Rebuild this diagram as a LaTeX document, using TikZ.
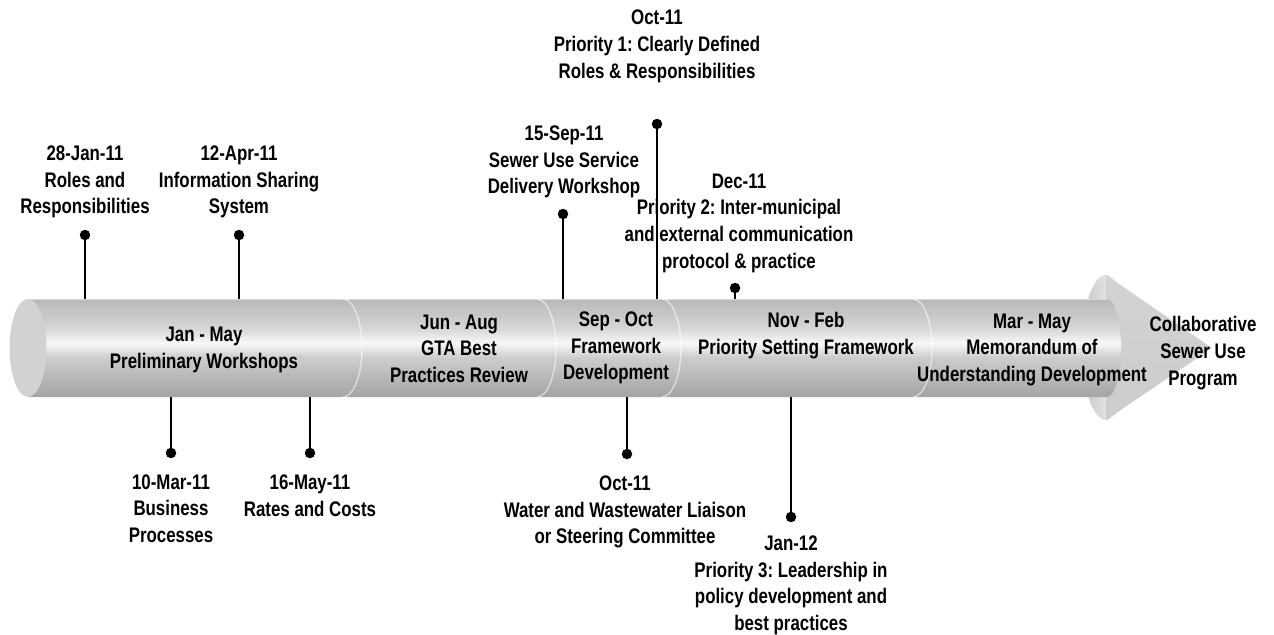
\documentclass[tikz,border=0pt]{standalone}
\usepackage{fontspec}
\setmainfont{Liberation Sans}[FakeStretch=0.8]
\usepackage{tikz}
\usetikzlibrary{arrows}
\usetikzlibrary{shapes.geometric}
\tikzset{>=stealth'}
\frenchspacing
\definecolor{tubedark}{RGB}{164,164,164}
\definecolor{tubelow}{RGB}{204,204,204}
\definecolor{tubetop}{RGB}{184,184,184}
\definecolor{tubehigh}{RGB}{214,214,214}
\definecolor{tubelight}{RGB}{248,248,248}
\definecolor{capgray}{RGB}{210,210,210}
\pgfdeclareverticalshading{tube}{100bp}{color(0bp)=(tubedark); color(25bp)=(tubedark); color(45bp)=(tubelow); color(52.5bp)=(tubelight); color(60bp)=(tubehigh); color(75bp)=(tubetop); color(100bp)=(tubetop)}
\tikzset{
    tltext/.style={align=center, inner sep=0pt, font=\bfseries\fontsize{12}{15.2}\selectfont},
    pinhead/.style={circle, fill=black, inner sep=0pt, minimum size=0.21cm},
    pinline/.style={line width=0.6pt},
    divider/.style={white, opacity=0.55, line width=0.8pt}
}

\begin{document}
\begin{tikzpicture}[x=0.02cm, y=-0.02cm]
    \useasboundingbox (0,0) rectangle (1274,635);

    % cone at the end of the tube
    \shade[left color=gray!45, right color=white] (1106,347.5) ellipse [x radius=24, y radius=72.5];
    \shade[top color=gray!35, middle color=gray!5, bottom color=gray!40] (1106,275) -- (1212,348) -- (1106,420) -- cycle;

    % tube
    \shade[shading=tube] (28,299) -- (1107,299) arc[start angle=-90, end angle=90, x radius=14, y radius=49] -- (28,397) -- cycle;
    \draw[white, opacity=0.5, line width=0.5pt] (28,299.6) -- (1107,299.6); % top edge
    \fill[capgray] (28,348) ellipse [x radius=18.5, y radius=49]; % left end
    \foreach \dx in {343,537,662,913}
        \draw[divider] (\dx,299) arc[start angle=-90, end angle=90, x radius=19, y radius=49];

    % phases
    \node[tltext] (janmay) at (204,349.7) {Jan - May\\Preliminary Workshops};
    \node[tltext] (junaug) at (459,348.7) {Jun - Aug\\GTA Best\\Practices Review};
    \node[tltext] (sepoct) at (616,348) {Sep - Oct\\Framework\\Development};
    \node[tltext] (novfeb) at (806,335.4) {Nov - Feb\\Priority Setting Framework};
    \node[tltext] (marmay) at (1032,349.7) {Mar - May\\Memorandum of\\Understanding Development};
    \node[tltext] (program) at (1203,353) {Collaborative\\Sewer Use\\Program};

    % pins above
    \node[pinhead] (rolesdot) at (85,235) {};
    \node[pinhead] (infodot) at (239,235) {};
    \node[pinhead] (sewerdot) at (563,214) {};
    \node[pinhead] (prioonedot) at (657,124) {};
    \node[pinhead] (priotwodot) at (735,288) {};
    \coordinate (rolesbase) at (85,299);
    \coordinate (infobase) at (239,299);
    \coordinate (sewerbase) at (563,299);
    \coordinate (priobase) at (657,299);
    \coordinate (priotwobase) at (735,299);
    \draw[pinline] (rolesbase) -- (rolesdot.center);
    \draw[pinline] (infobase) -- (infodot.center);
    \draw[pinline] (sewerbase) -- (sewerdot.center);
    \draw[pinline] (priobase) -- (prioonedot.center);
    \draw[pinline] (priotwobase) -- (priotwodot.center);

    % pins below
    \node[pinhead] (busdot) at (171,453) {};
    \node[pinhead] (ratesdot) at (310,453) {};
    \node[pinhead] (waterdot) at (627,454) {};
    \node[pinhead] (priothreedot) at (791,517) {};
    \coordinate (busbase) at (171,397);
    \coordinate (ratesbase) at (310,397);
    \coordinate (waterbase) at (627,397);
    \coordinate (priothreebase) at (791,397);
    \draw[pinline] (busbase) -- (busdot.center);
    \draw[pinline] (ratesbase) -- (ratesdot.center);
    \draw[pinline] (waterbase) -- (waterdot.center);
    \draw[pinline] (priothreebase) -- (priothreedot.center);

    % milestones
    \node[tltext] (roles) at (85,182) {28-Jan-11\\Roles and\\Responsibilities};
    \node[tltext] (info) at (239,182) {12-Apr-11\\Information Sharing\\System};
    \node[tltext] (sewer) at (564,162) {15-Sep-11\\Sewer Use Service\\Delivery Workshop};
    \node[tltext] (prioone) at (657,46.4) {Oct-11\\Priority 1: Clearly Defined\\Roles \& Responsibilities};
    \node[tltext] (priotwo) at (739,223) {Dec-11\\Priority 2: Inter-municipal\\and external communication\\protocol \& practice};
    \node[tltext] (bus) at (171,508.7) {10-Mar-11\\Business\\Processes};
    \node[tltext] (rates) at (310,495.4) {16-May-11\\Rates and Costs};
    \node[tltext] (water) at (625,511.9) {Oct-11\\Water and Wastewater Liaison\\or Steering Committee};
    \node[tltext] (priothree) at (791,585.3) {Jan-12\\Priority 3: Leadership in\\policy development and\\best practices};

\end{tikzpicture}
\end{document}
